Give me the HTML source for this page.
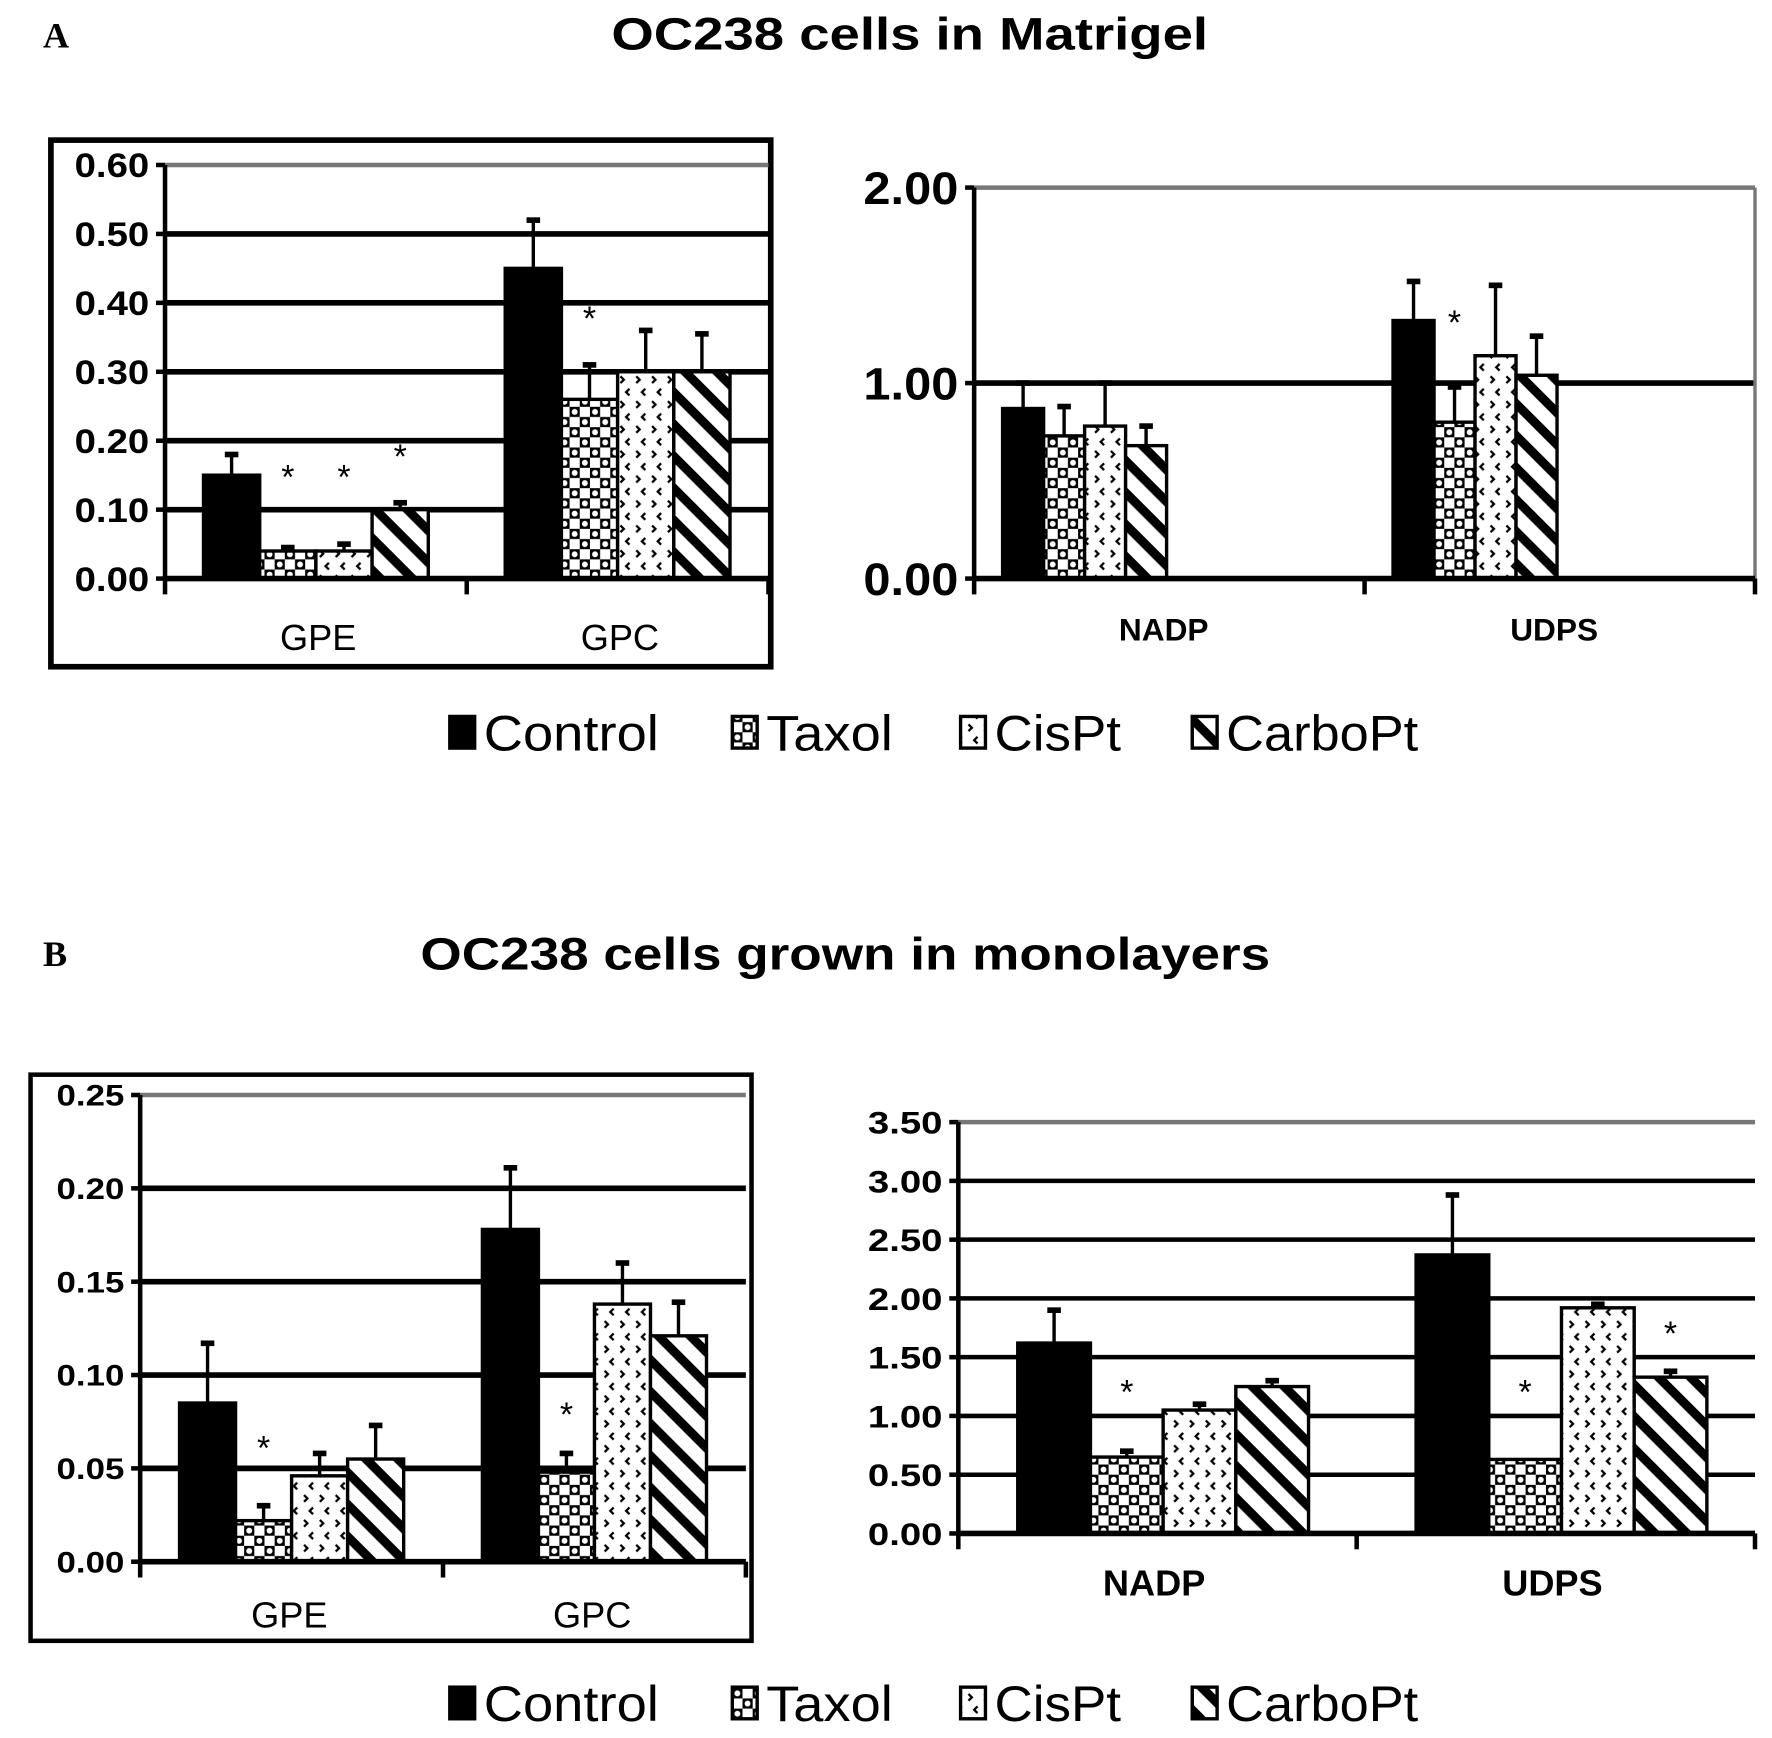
<!DOCTYPE html>
<html><head><meta charset="utf-8">
<style>html,body{margin:0;padding:0;background:#fff}svg{display:block}</style>
</head><body>
<svg id="fig" width="1772" height="1738" viewBox="0 0 1568 1538" xmlns="http://www.w3.org/2000/svg" font-family="'Liberation Sans', sans-serif">
<defs>
<pattern id="p-taxol" width="18" height="18" patternUnits="userSpaceOnUse"><rect width="18" height="18" fill="#fff"/><rect x="0" y="0" width="9" height="9" fill="#000"/><rect x="9" y="9" width="9" height="9" fill="#000"/><circle cx="4.5" cy="4.5" r="2.6" fill="#fff"/><circle cx="13.5" cy="13.5" r="2.6" fill="#fff"/></pattern>
<pattern id="p-cis" width="14" height="22" patternUnits="userSpaceOnUse"><rect width="14" height="22" fill="#fff"/><path d="M3 3 L6 6 L3 9" stroke="#000" stroke-width="2" fill="none"/><path d="M11 14 L8 17 L11 20" stroke="#000" stroke-width="2" fill="none"/></pattern>
<pattern id="p-carbo" width="20" height="20" patternUnits="userSpaceOnUse" patternTransform="rotate(45)"><rect width="20" height="20" fill="#fff"/><rect x="0" y="0" width="20" height="8" fill="#000"/></pattern>
</defs>
<g id="root"></g>
</svg>
<script>
const seriesNames = ["Control","Taxol","CisPt","CarboPt"];
const fills = ["#000","url(#p-taxol)","url(#p-cis)","url(#p-carbo)"];

const aCats1 = ["GPE","GPC"];
const aVals1 = [[0.15,0.04,0.04,0.10],[0.45,0.26,0.30,0.30]];
const aErr1  = [[0.18,0.045,0.05,0.11],[0.52,0.31,0.36,0.355]];
const aTicks1 = ["0.00","0.10","0.20","0.30","0.40","0.50","0.60"];
const aStars1 = [[null,0.15,0.15,0.18],[null,0.38,null,null]];

const aCats2 = ["NADP","UDPS"];
const aVals2 = [[0.87,0.73,0.78,0.68],[1.32,0.80,1.14,1.04]];
const aErr2  = [[1.00,0.88,1.00,0.78],[1.52,0.98,1.50,1.24]];
const aTicks2 = ["0.00","1.00","2.00"];
const aStars2 = [[null,null,null,null],[null,1.32,null,null]];

const bCats1 = ["GPE","GPC"];
const bVals1 = [[0.085,0.022,0.046,0.055],[0.178,0.048,0.138,0.121]];
const bErr1  = [[0.117,0.030,0.058,0.073],[0.211,0.058,0.160,0.139]];
const bTicks1 = ["0.00","0.05","0.10","0.15","0.20","0.25"];
const bStars1 = [[null,0.062,null,null],[null,0.080,null,null]];

const bCats2 = ["NADP","UDPS"];
const bVals2 = [[1.62,0.65,1.05,1.25],[2.37,0.63,1.92,1.33]];
const bErr2  = [[1.90,0.70,1.10,1.30],[2.88,0.63,1.95,1.38]];
const bTicks2 = ["0.00","0.50","1.00","1.50","2.00","2.50","3.00","3.50"];
const bStars2 = [[null,1.22,null,null],[null,1.22,null,1.72]];

const NS="http://www.w3.org/2000/svg";
const root=document.getElementById('root');
function mk(tag,attrs,parent,text){const e=document.createElementNS(NS,tag);for(const k in attrs)e.setAttribute(k,attrs[k]);if(text!==undefined)e.textContent=text;(parent||root).appendChild(e);return e;}

function chart(o){
  const g=mk('g',{});
  
  
  const vmax=parseFloat(o.ticks[o.ticks.length-1]);
  const y=v=>o.y0-(v/vmax)*(o.y0-o.yTop);
  const catW=(o.x1-o.x0)/o.cats.length;
  o.ticks.forEach((t,i)=>{
    const v=parseFloat(t), last=i===o.ticks.length-1;
    if(i>0){const l=mk('line',{x1:o.x0,x2:o.x1,y1:y(v),y2:y(v),stroke:last?'#777':'#000','stroke-width':last?4:(o.gw||5)},g);
      }
    mk('line',{x1:o.x0-8,x2:o.x0,y1:y(v),y2:y(v),stroke:'#000','stroke-width':4},g);
    const tl=mk('text',{x:o.x0-14,y:y(v)+o.tf*0.36,'text-anchor':'end','font-size':o.tf,'font-weight':'bold',fill:'#000',textLength:o.tlw,lengthAdjust:'spacingAndGlyphs'},g,t);
    
  });
  if(o.rightLine) mk('line',{x1:o.x1,x2:o.x1,y1:o.yTop,y2:o.y0+10,stroke:'#777','stroke-width':3},g);
  mk('line',{x1:o.x0,x2:o.x0,y1:o.yTop,y2:o.y0+14,stroke:'#000','stroke-width':4},g);
  o.cats.forEach((c,ci)=>{
    const cx=o.x0+catW*(ci+0.5);
    mk('line',{x1:o.x0+catW*(ci+1),x2:o.x0+catW*(ci+1),y1:o.y0,y2:o.y0+14,stroke:'#000','stroke-width':4},g);
    const gw=catW*o.groupFrac, bw=gw/4, gx=cx-gw/2+o.shift;
    o.vals[ci].forEach((v,si)=>{
      const bx=gx+si*bw;
      const e=o.err[ci][si];
      if(e>v){const el=mk('line',{x1:bx+bw/2,x2:bx+bw/2,y1:y(v),y2:y(e),stroke:'#000','stroke-width':3},g);
        
        mk('line',{x1:bx+bw/2-6,x2:bx+bw/2+6,y1:y(e),y2:y(e),stroke:'#000','stroke-width':5},g);}
      const r=mk('rect',{x:bx,y:y(v),width:bw,height:o.y0-y(v),fill:fills[si],stroke:'#000','stroke-width':3},g);
      
      
      const s=o.stars[ci][si];
      if(s!==null){const st=mk('text',{x:bx+bw/2,y:y(s)+12,'text-anchor':'middle','font-size':30,fill:'#000'},g,'*');
        }
    });
    const cl=mk('text',{x:cx+o.labShift,y:o.labY,'text-anchor':'middle','font-size':o.lf,'font-weight':o.lbold?'bold':'normal',fill:'#000'},g,c);
    
  });
  mk('line',{x1:o.x0,x2:o.x1,y1:o.y0,y2:o.y0,stroke:'#000','stroke-width':5},g);
}

function legend(yb,name){
  const g=mk('g',{});
  
  const xs=[398,648,850,1055], tw=[155,112,112,170];
  seriesNames.forEach((n,i)=>{
    const it=mk('g',{},g);
    
    mk('rect',{x:xs[i],y:yb-30,width:22,height:28,fill:fills[i],stroke:'#000','stroke-width':3},it);
    mk('text',{x:xs[i]+30,y:yb,'font-size':44,fill:'#000',textLength:tw[i],lengthAdjust:'spacingAndGlyphs'},it,n);
  });
}

function title(x,y,t,name,w){const e=mk('text',{x:x,y:y,'text-anchor':'middle','font-size':40,'font-weight':'bold',fill:'#000',textLength:w,lengthAdjust:'spacingAndGlyphs'},root,t);}
function letter(x,y,t,name){const e=mk('text',{x:x,y:y,'font-size':32,'font-weight':'bold','font-family':"'Liberation Serif', serif",fill:'#000'},root,t);}

letter(38,42,'A','panel-a-label');
title(805,44,'OC238 cells in Matrigel','panel-a-title',528);
const boxA=mk('rect',{x:45,y:124,width:637,height:466,fill:'none',stroke:'#000','stroke-width':5});

chart({name:'chart-a-left',cats:aCats1,vals:aVals1,err:aErr1,ticks:aTicks1,stars:aStars1,x0:146,x1:680,y0:512,yTop:146,groupFrac:0.745,shift:0,tf:30,tlw:66,lf:32,labY:575,labShift:2,lbold:false});
chart({name:'chart-a-right',cats:aCats2,vals:aVals2,err:aErr2,ticks:aTicks2,stars:aStars2,x0:862,x1:1553,y0:512,yTop:166,groupFrac:0.42,shift:-75,tf:40,tlw:84,lf:28,labY:567,labShift:-5,lbold:true,rightLine:true,gw:5});
legend(664,'legend-a');

letter(38,855,'B','panel-b-label');
title(748,858,'OC238 cells grown in monolayers','panel-b-title',752);
const boxB=mk('rect',{x:27,y:951,width:638,height:501,fill:'none',stroke:'#000','stroke-width':4});

chart({name:'chart-b-left',cats:bCats1,vals:bVals1,err:bErr1,ticks:bTicks1,stars:bStars1,x0:124,x1:660,y0:1382,yTop:969,groupFrac:0.74,shift:0,tf:26,tlw:60,lf:32,labY:1440,labShift:-2,lbold:false});
chart({name:'chart-b-right',cats:bCats2,vals:bVals2,err:bErr2,ticks:bTicks2,stars:bStars2,x0:848,x1:1553,y0:1357,yTop:993,groupFrac:0.73,shift:5,tf:28,tlw:66,lf:32,labY:1412,labShift:-3,lbold:true,gw:4});
legend(1523,'legend-b');
</script>
</body></html>
